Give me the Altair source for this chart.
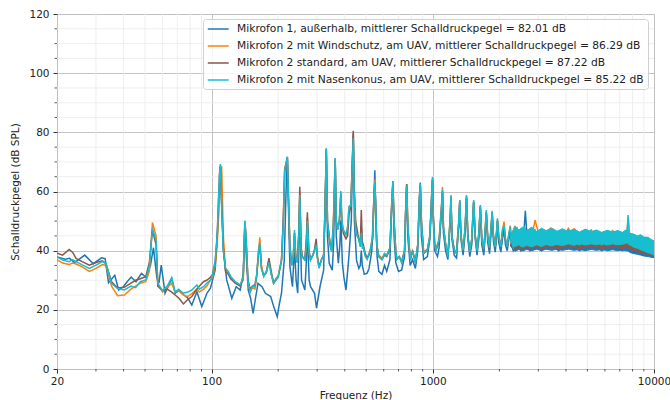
import altair as alt
import pandas as pd

names = [
    "Mikrofon 1, außerhalb, mittlerer Schalldruckpegel = 82.01 dB",
    "Mikrofon 2 mit Windschutz, am UAV, mittlerer Schalldruckpegel = 86.29 dB",
    "Mikrofon 2 standard, am UAV, mittlerer Schalldruckpegel = 87.22 dB",
    "Mikrofon 2 mit Nasenkonus, am UAV, mittlerer Schalldruckpegel = 85.22 dB",
]
colors = ["#1f77b4", "#ff7f0e", "#8c564b", "#17becf"]

# ---------- Mikrofon 2 series (shared frequency grid) ----------
freq_top = [
    20, 21.2, 22.7, 23.5, 24.4, 26, 28, 30, 32.1, 33.3, 35.3, 37.6, 40.3, 43.2, 45.3, 47.6, 50.4, 52.3, 54, 56.1, 57.1,
    60, 63, 66, 68.4, 71, 74.6, 78, 81.4, 85.8, 88, 91.9, 95, 98.8, 101, 103.8,
    106, 108.5, 109.6, 111, 113, 115.6, 119, 122, 128, 134.6,
    139, 141.4, 143, 146, 149.4, 153, 157, 160, 163, 165.2, 168, 172, 177, 181.6, 186, 190.7, 195, 200, 207,
    211, 214, 220, 224, 226, 230, 234, 237, 240, 244, 248, 250.4, 254, 257, 264, 268, 271, 275, 280, 287,
    292, 297, 300, 306, 314, 321, 326, 330, 334, 340, 345, 349, 355, 362, 366, 372, 378, 384, 388, 394,
    405, 412, 418, 426, 433, 437, 441, 448, 455, 462, 470, 475, 480, 485, 495, 505, 515, 522, 535, 542,
    547, 552, 558, 569, 589, 605, 619, 640, 652, 660, 668, 680, 687, 705, 723, 745, 755, 762, 770, 780,
    792, 810, 834, 855, 870, 878, 888, 909, 945, 970, 990, 997, 1005, 1020, 1032, 1068, 1095, 1106, 1117,
    1142, 1170, 1200, 1208, 1220, 1250, 1280, 1310, 1324, 1340, 1371, 1400, 1420, 1440, 1470, 1500, 1530,
    1555, 1585, 1615, 1640, 1665, 1700, 1725, 1745, 1770, 1805, 1830, 1855, 1880, 1915, 1940, 1960, 1985,
    2030, 2065, 2100, 2130, 2170, 2210, 2240, 2270, 2310, 2400, 2500, 2600, 2750, 2900, 3100, 3400, 3700,
    4100, 4600, 5200, 5800, 6500, 7200, 7550, 7640, 7720, 8100, 8800, 9400, 10000,
]

db_cyan = [
    37.9, 36.8, 36.3, 37.0, 36.3, 35.2, 34.0, 35.1, 36.3, 35.7, 28.9, 27.2, 26.7, 28.0, 27.5, 29.5, 30.1, 34.9, 47.5, 43.5, 28.9,
    26.5, 28.0, 30.9, 26.0, 27.0, 25.6, 26.0, 26.7, 28.4, 27.0, 27.8, 29.0, 30.1, 32.0, 36.8,
    45.0, 65.0, 69.3, 55.0, 40.0, 34.1, 33.0, 31.3, 29.5, 28.4,
    31.0, 50.2, 45.0, 30.0, 26.1, 28.0, 27.8, 32.0, 40.0, 42.6, 34.0, 31.2, 33.0, 36.0, 32.0, 28.9, 30.0, 31.2, 36.8,
    50.0, 67.2, 71.7, 50.0, 41.3, 35.0, 38.0, 47.0, 38.0, 36.0, 45.0, 58.8, 40.0, 37.9, 36.8, 42.0, 50.0, 40.0, 36.8, 38.5,
    40.0, 42.0, 38.0, 34.0, 37.0, 38.5, 55.0, 74.5, 50.0, 44.7, 41.0, 39.6, 48.0, 71.2, 50.0, 47.0, 50.0, 60.2, 50.0, 47.0,
    45.4, 48.0, 54.8, 55.0, 70.0, 78.0, 60.0, 47.0, 45.0, 44.0, 41.3, 46.0, 41.0, 41.3, 38.0, 37.0, 39.0, 40.2, 45.0, 58.0,
    63.3, 55.0, 42.0, 38.3, 37.0, 39.0, 38.3, 41.0, 56.0, 63.3, 50.0, 40.0, 37.0, 38.0, 36.0, 40.0, 55.0, 62.2, 50.0, 42.0,
    37.0, 40.0, 36.0, 42.0, 58.0, 62.6, 50.0, 39.1, 40.2, 45.0, 60.0, 65.0, 52.0, 42.0, 40.2, 43.6, 55.0, 60.5, 48.0,
    42.4, 38.0, 52.0, 58.8, 45.0, 40.2, 39.1, 50.0, 57.1, 45.0, 40.2, 48.0, 58.8, 45.0, 39.6, 44.0, 57.1,
    45.0, 40.0, 46.0, 55.4, 44.0, 40.5, 47.0, 53.7, 45.0, 41.0, 47.0, 53.1, 45.0, 41.3, 46.0, 50.9, 45.0,
    41.3, 47.0, 48.5, 44.0, 41.3, 46.0, 48.1, 43.0, 41.3, 47.5, 41.5, 47.5, 42.0, 47.0, 42.0, 47.0, 42.0,
    47.0, 42.0, 46.8, 42.0, 46.5, 42.5, 46.0, 52.0, 46.0, 41.5, 44.5, 39.5, 41.0,
]

db_orange = [
    37.0, 35.8, 35.3, 35.8, 35.5, 34.5, 33.0, 34.0, 35.3, 35.0, 28.0, 24.8, 25.0, 27.0, 28.0, 29.0, 29.5, 33.0, 49.5, 45.0, 29.0,
    26.0, 27.5, 29.0, 26.0, 26.5, 25.0, 24.5, 25.5, 27.0, 26.0, 27.0, 28.0, 30.0, 31.0, 35.0,
    42.0, 58.0, 66.0, 68.5, 45.0, 33.5, 32.5, 31.0, 29.0, 28.5,
    30.0, 49.5, 46.0, 29.5, 26.0, 27.5, 27.0, 31.0, 40.0, 44.5, 35.0, 31.5, 32.5, 36.5, 32.0, 29.0, 30.5, 31.5, 37.0,
    52.0, 68.0, 71.0, 52.0, 41.5, 35.5, 38.0, 46.0, 38.5, 36.5, 46.0, 60.0, 41.0, 38.0, 37.0, 42.0, 51.0, 40.0, 37.0, 38.5,
    40.0, 43.0, 38.5, 34.5, 37.0, 38.5, 56.0, 74.0, 50.0, 45.0, 41.0, 40.0, 49.0, 70.5, 50.0, 47.5, 50.0, 59.5, 50.0, 47.0,
    45.5, 48.0, 55.0, 55.5, 71.0, 79.0, 61.0, 47.5, 45.0, 44.5, 41.5, 47.0, 41.5, 41.5, 38.5, 37.5, 39.0, 40.5, 45.0, 59.0,
    64.0, 55.0, 42.0, 38.5, 37.5, 39.0, 38.5, 41.0, 56.0, 63.0, 50.0, 40.0, 37.5, 38.0, 36.5, 40.0, 55.0, 62.5, 50.0, 42.5,
    37.5, 40.0, 36.5, 42.0, 58.0, 62.0, 50.0, 39.5, 40.5, 45.0, 60.0, 64.5, 52.0, 42.0, 40.5, 44.0, 55.5, 61.5, 48.0,
    42.5, 38.5, 52.0, 58.5, 45.0, 40.5, 39.5, 50.0, 57.0, 45.0, 40.5, 48.0, 58.5, 45.0, 40.0, 44.0, 56.5,
    45.0, 40.5, 46.0, 55.0, 44.0, 41.0, 47.0, 53.0, 45.0, 41.5, 47.0, 53.5, 45.0, 41.5, 46.0, 50.5, 45.0,
    41.5, 47.0, 49.8, 44.0, 41.5, 46.0, 48.5, 43.0, 41.5, 48.0, 41.5, 48.0, 42.0, 50.3, 42.0, 47.5, 42.0,
    47.5, 42.0, 47.0, 42.0, 46.8, 42.5, 46.5, 51.0, 46.5, 41.5, 44.5, 39.5, 41.0,
]

db_brown = [
    39.1, 38.5, 40.4, 39.5, 37.4, 36.3, 35.1, 36.0, 36.6, 35.5, 29.5, 27.4, 27.6, 29.0, 30.0, 30.5, 31.2, 36.0, 47.0, 42.0, 28.0,
    26.5, 27.0, 26.0, 25.0, 24.0, 22.0, 23.5, 24.5, 27.0, 28.0, 29.5, 30.0, 31.0, 32.0, 36.0,
    45.0, 66.0, 68.5, 56.0, 41.0, 33.0, 32.0, 30.5, 29.0, 28.0,
    31.0, 49.0, 44.0, 30.0, 27.0, 28.0, 28.5, 32.0, 39.0, 42.0, 34.0, 31.5, 33.0, 37.5, 33.0, 29.0, 30.0, 31.0, 36.5,
    50.0, 67.0, 71.5, 50.0, 41.5, 35.0, 38.0, 46.0, 38.0, 36.0, 47.0, 61.6, 41.0, 38.0, 37.0, 44.0, 53.0, 40.5, 37.0, 38.5,
    40.5, 44.0, 38.5, 34.5, 37.0, 38.5, 55.0, 74.0, 50.0, 44.5, 41.5, 40.0, 48.0, 70.5, 50.0, 47.5, 50.0, 59.0, 49.0, 46.0,
    44.0, 45.0, 52.0, 55.0, 71.0, 80.5, 62.0, 50.0, 47.0, 44.0, 42.0, 53.7, 43.0, 42.0, 39.0, 37.5, 38.5, 40.0, 44.0, 58.0,
    63.0, 55.0, 42.0, 38.0, 37.0, 38.5, 38.0, 40.5, 55.0, 62.5, 50.0, 40.0, 37.0, 38.0, 36.0, 40.0, 55.0, 62.5, 50.0, 42.0,
    37.0, 40.0, 36.0, 42.0, 58.0, 63.0, 50.0, 39.0, 40.0, 45.0, 59.0, 64.0, 52.0, 42.0, 40.0, 43.0, 54.0, 60.0, 48.0,
    42.0, 38.0, 51.0, 58.0, 45.0, 40.0, 39.0, 49.0, 56.5, 45.0, 40.0, 47.0, 58.0, 45.0, 39.5, 43.5, 56.5,
    45.0, 40.0, 45.5, 55.0, 44.0, 40.0, 46.5, 53.0, 45.0, 40.5, 46.5, 52.5, 45.0, 41.0, 45.5, 50.0, 44.5,
    41.0, 46.0, 48.0, 43.5, 41.0, 45.5, 47.0, 42.5, 41.0, 43.0, 40.5, 43.0, 40.5, 43.0, 40.5, 43.0, 40.5,
    43.0, 40.5, 43.0, 40.5, 43.0, 40.5, 42.5, 43.0, 42.0, 40.0, 41.5, 39.0, 40.0,
]

# ---------- Mikrofon 1 (own frequency grid) ----------
freq_blue = [
    20, 21.8, 22.8, 24, 25.3, 26.7, 29.2, 31.8, 33, 34.2, 36.5, 38, 39.9, 41.5, 43.3, 45.5, 48.2, 50.5, 52.9, 54.6,
    56.5, 57.8, 59.2, 61.6, 66, 68.4, 71, 74.6, 78, 81.4, 85.8, 90.3, 95.2, 98.8, 103.8, 107, 109.6, 111.5, 113,
    117, 123.4, 129.2, 134.6, 139, 141.4, 143.5, 146.4, 150, 154, 158, 162, 169, 175, 185, 191, 198, 202, 207,
    213, 217, 220, 224, 226, 232, 237, 241, 245, 248, 250.4, 253, 255, 264, 268, 271, 276, 280, 292, 298, 309,
    321, 326, 330, 334, 340, 351, 356, 362, 366, 374, 380, 384, 390, 396, 405, 412, 418, 428, 432, 437, 442,
    452, 463, 470, 475, 480, 490, 505, 515, 530, 540, 547, 553, 560, 570, 589, 605, 619, 640, 652, 660, 668,
    680, 700, 723, 745, 755, 762, 770, 790, 810, 834, 855, 870, 878, 888, 909, 945, 970, 990, 997, 1005, 1020,
    1050, 1068, 1095, 1106, 1117, 1142, 1170, 1200, 1208, 1220, 1250, 1280, 1310, 1324, 1340, 1371, 1400, 1420,
    1440, 1470, 1500, 1530, 1555, 1585, 1615, 1640, 1665, 1700, 1725, 1745, 1770, 1805, 1830, 1855, 1880, 1915,
    1940, 1960, 1985, 2030, 2065, 2100, 2130, 2170, 2210, 2240, 2270, 2310, 2400, 2500, 2560, 2620, 2680, 2750,
    2900, 3100, 3400, 3700, 4100, 4600, 5200, 5800, 6500, 7200, 7550, 7640, 8100, 8800, 9400, 10000,
]
db_blue = [
    37.9, 37.1, 37.4, 36.0, 37.2, 38.5, 35.6, 37.6, 37.3, 29.2, 31.7, 26.7, 27.8, 29.5, 31.1, 29.5, 32.3, 31.0, 35.0, 41.0,
    31.0, 29.0, 35.1, 25.6, 30.6, 25.6, 26.5, 25.1, 24.0, 21.6, 26.1, 21.1, 25.6, 27.3, 33.5, 50.0, 68.9, 52.0, 40.2,
    30.1, 23.9, 27.8, 26.7, 32.0, 49.8, 38.0, 26.7, 24.0, 18.8, 24.0, 28.9, 27.8, 25.6, 24.5, 21.0, 17.7, 21.6, 25.6,
    36.8, 60.0, 71.7, 45.0, 34.5, 27.8, 41.3, 30.0, 25.6, 40.0, 58.2, 40.0, 30.1, 26.7, 36.0, 47.0, 30.0, 27.8, 25.6, 20.6, 27.8,
    33.4, 55.0, 74.5, 45.0, 35.8, 33.4, 42.0, 71.2, 45.0, 35.8, 42.0, 50.3, 36.0, 31.2, 26.7, 33.0, 38.5, 50.0, 65.0, 79.7, 50.0,
    36.8, 34.0, 35.0, 40.0, 35.0, 32.0, 32.4, 34.0, 40.0, 55.0, 67.2, 50.0, 38.0, 33.0, 32.0, 35.0, 33.0, 37.0, 55.0, 63.5, 45.0,
    36.0, 33.0, 33.5, 38.0, 55.0, 62.0, 45.0, 35.0, 37.0, 34.0, 40.0, 57.0, 62.0, 45.0, 37.0, 38.0, 44.0, 60.0, 64.0, 50.0, 40.0,
    38.0, 41.0, 54.0, 60.0, 46.0, 40.0, 37.0, 50.0, 58.0, 44.0, 38.5, 37.5, 49.0, 56.5, 44.0, 38.5, 46.0, 58.0,
    44.0, 38.0, 42.0, 56.5, 44.0, 38.5, 44.0, 54.5, 42.0, 38.5, 45.0, 53.0, 43.0, 39.0, 45.0, 52.5, 43.0, 39.5,
    44.0, 50.0, 43.0, 39.5, 44.0, 47.0, 42.0, 40.0, 44.0, 46.0, 42.0, 40.0, 42.5, 40.0, 42.0, 53.5, 42.0, 40.0,
    42.5, 40.0, 42.5, 40.0, 42.5, 40.0, 42.5, 40.0, 42.0, 40.0, 41.5, 42.0, 39.5, 40.5, 38.5, 39.0,
]

# ---------- dense high-frequency region: ragged envelope of the oscillation ----------
band_freq = [2250, 2350, 2450, 2550, 2650, 2800, 2950, 3100, 3250, 3450, 3650, 3850, 4100, 4350, 4600, 4900,
             5200, 5500, 5800, 6150, 6500, 6850, 7200, 7450, 7600, 7650, 7700, 7850, 8100, 8400, 8700, 9000,
             9400, 9700, 10000]
cyan_hi = [45.0, 48.2, 47.0, 48.0, 46.8, 47.8, 46.5, 47.6, 46.8, 47.5, 46.6, 47.4, 46.5, 47.2, 46.3, 47.3,
           46.4, 47.0, 46.2, 46.9, 46.3, 46.8, 46.2, 47.0, 46.5, 47.2, 46.0, 45.8, 45.6, 45.0, 45.4, 44.6,
           44.5, 43.8, 43.3]
cyan_lo = [43.5, 41.3, 42.0, 41.2, 41.8, 41.3, 42.0, 41.4, 42.1, 41.6, 42.2, 41.7, 42.3, 41.8, 42.4, 41.9,
           42.3, 42.0, 42.4, 41.9, 42.3, 42.0, 42.2, 42.4, 42.6, 42.4, 42.0, 41.8, 41.2, 40.8, 40.3, 39.9,
           39.3, 39.0, 38.5]
orange_hi = [45.0, 48.4, 46.8, 47.6, 46.6, 48.0, 46.3, 47.3, 46.6, 47.7, 46.4, 47.0, 46.3, 47.5, 46.1, 47.0,
             46.2, 46.8, 46.0, 46.7, 46.1, 46.6, 46.0, 46.8, 46.3, 47.0, 45.8, 45.6, 45.4, 44.8, 45.2, 44.4,
             44.3, 43.6, 43.1]
orange_lo = [43.5, 41.0, 41.6, 41.0, 41.5, 41.0, 41.8, 41.2, 41.8, 41.3, 42.0, 41.4, 42.0, 41.5, 42.1, 41.6,
             42.0, 41.7, 42.1, 41.6, 42.0, 41.7, 41.9, 42.1, 42.3, 42.1, 41.7, 41.5, 40.9, 40.5, 40.0, 39.6,
             39.0, 38.7, 38.3]
brown_hi = [42.5, 43.5, 42.6, 43.3, 42.5, 43.2, 42.4, 43.1, 42.5, 43.0, 42.4, 43.0, 42.5, 43.1, 42.4, 43.0,
            42.5, 42.9, 42.4, 43.0, 42.5, 42.9, 42.4, 42.8, 42.9, 42.8, 42.5, 42.3, 42.0, 41.8, 41.5, 41.2,
            41.0, 40.8, 40.5]
brown_lo = [41.5, 40.6, 41.2, 40.7, 41.1, 40.8, 41.2, 40.8, 41.2, 40.9, 41.3, 40.9, 41.3, 41.0, 41.3, 40.9,
            41.2, 41.0, 41.3, 40.9, 41.2, 41.0, 41.1, 41.0, 41.0, 40.9, 40.7, 40.5, 40.0, 39.7, 39.3, 39.0,
            38.8, 38.5, 38.3]
blue_hi = [42.0, 42.8, 42.0, 42.7, 41.9, 42.6, 41.9, 42.5, 41.9, 42.5, 41.8, 42.4, 41.9, 42.4, 41.8, 42.4,
           41.9, 42.3, 41.8, 42.3, 41.8, 42.2, 41.7, 42.0, 42.0, 41.9, 41.6, 41.4, 41.2, 40.9, 40.6, 40.3,
           40.0, 39.8, 39.6]
blue_lo = [41.5, 39.8, 40.4, 39.9, 40.4, 40.0, 40.5, 40.0, 40.5, 40.1, 40.5, 40.1, 40.5, 40.1, 40.4, 40.0,
           40.4, 40.1, 40.4, 40.0, 40.3, 40.0, 40.2, 40.0, 39.9, 39.8, 39.6, 39.3, 39.0, 38.8, 38.5, 38.2,
           38.0, 37.8, 37.6]

# ---------- axis tick values ----------
x_major = [20, 100, 1000, 10000]
x_minor = [30, 40, 50, 60, 70, 80, 90, 200, 300, 400, 500, 600, 700, 800, 900,
           2000, 3000, 4000, 5000, 6000, 7000, 8000, 9000]
y_major = [0, 20, 40, 60, 80, 100, 120]
y_minor = [5, 10, 15, 25, 30, 35, 45, 50, 55, 65, 70, 75, 85, 90, 95, 105, 110, 115]

FONT = "DejaVu Sans"
W, H = 597, 355

x_scale = alt.Scale(type="log", domain=[20, 10000], nice=False)
y_scale = alt.Scale(domain=[0, 120], nice=False)
color_scale = alt.Scale(domain=names, range=colors)

x_axis = alt.Axis(values=x_major, format="d", title="Frequenz (Hz)", grid=True,
                  gridColor="#bdbdbd", gridWidth=0.9, domain=False, tickSize=4,
                  tickColor="#333333", labelFontSize=10.5, labelFont=FONT, labelColor="#222222",
                  labelPadding=3, titleFont=FONT, titleFontSize=10.5, titleFontWeight="normal",
                  titleColor="#222222", titlePadding=4, labelFlush=False)
y_axis = alt.Axis(values=y_major, title="Schalldruckpegel (dB SPL)", grid=True,
                  gridColor="#bdbdbd", gridWidth=0.9, domain=False, tickSize=4,
                  tickColor="#333333", labelFontSize=10.5, labelFont=FONT, labelColor="#222222",
                  labelPadding=4, titleFont=FONT, titleFontSize=10.5, titleFontWeight="normal",
                  titleColor="#222222", titlePadding=8)

legend = alt.Legend(title=None, orient="none", legendX=146, legendY=5,
                    symbolType="M-1,0H3", symbolSize=110, symbolStrokeWidth=1.5,
                    labelFontSize=10.7, labelFont=FONT, labelColor="#222222", labelLimit=600,
                    labelOffset=18, padding=4, rowPadding=6, strokeColor="#d0d0d0",
                    fillColor="rgba(255,255,255,0.85)", cornerRadius=3)

X = lambda field: alt.X(field, scale=x_scale, axis=x_axis)
Y = lambda field: alt.Y(field, scale=y_scale, axis=y_axis)

# minor grid lines
minor_x = alt.Chart(pd.DataFrame({"f": x_minor})).mark_rule(color="#ececec", strokeWidth=0.9).encode(
    x=X("f:Q"))
minor_y = alt.Chart(pd.DataFrame({"db": y_minor})).mark_rule(color="#ececec", strokeWidth=0.9).encode(
    y=Y("db:Q"))
# minor tick marks
minor_xt = alt.Chart(pd.DataFrame({"f": x_minor})).mark_rule(color="#333333", strokeWidth=0.8, clip=False).encode(
    x=X("f:Q"), y=alt.value(H), y2=alt.value(H + 2.5))
minor_yt = alt.Chart(pd.DataFrame({"db": y_minor})).mark_rule(color="#333333", strokeWidth=0.8, clip=False).encode(
    y=Y("db:Q"), x=alt.value(-2.5), x2=alt.value(0))


def line_layer(name, freqs, dbs):
    df = pd.DataFrame({"f": freqs, "db": dbs, "name": name})
    return alt.Chart(df).mark_line(strokeWidth=1.5, clip=True).encode(
        x=X("f:Q"),
        y=Y("db:Q"),
        color=alt.Color("name:N", scale=color_scale, legend=legend),
        order=alt.Order("f:Q"),
    )


def band_layer(color, lo, hi):
    df = pd.DataFrame({"f": band_freq, "db": lo, "hi": hi})
    return alt.Chart(df).mark_area(color=color, opacity=1, clip=True, stroke=color, strokeWidth=1).encode(
        x=X("f:Q"),
        y=Y("db:Q"),
        y2="hi:Q",
    )


chart = alt.layer(
    minor_x, minor_y,
    line_layer(names[0], freq_blue, db_blue), band_layer(colors[0], blue_lo, blue_hi),
    line_layer(names[1], freq_top, db_orange), band_layer(colors[1], orange_lo, orange_hi),
    line_layer(names[2], freq_top, db_brown), band_layer(colors[2], brown_lo, brown_hi),
    line_layer(names[3], freq_top, db_cyan), band_layer(colors[3], cyan_lo, cyan_hi),
    minor_xt, minor_yt,
).properties(
    width=W, height=H,
    autosize=alt.AutoSizeParams(type="none"),
    padding={"left": 57, "top": 14, "right": 16, "bottom": 31},
    background="white",
).configure_view(
    stroke="#333333", strokeWidth=1,
).configure(font=FONT)

chart.save("out.html", embed_options={"renderer": "svg", "actions": False})
